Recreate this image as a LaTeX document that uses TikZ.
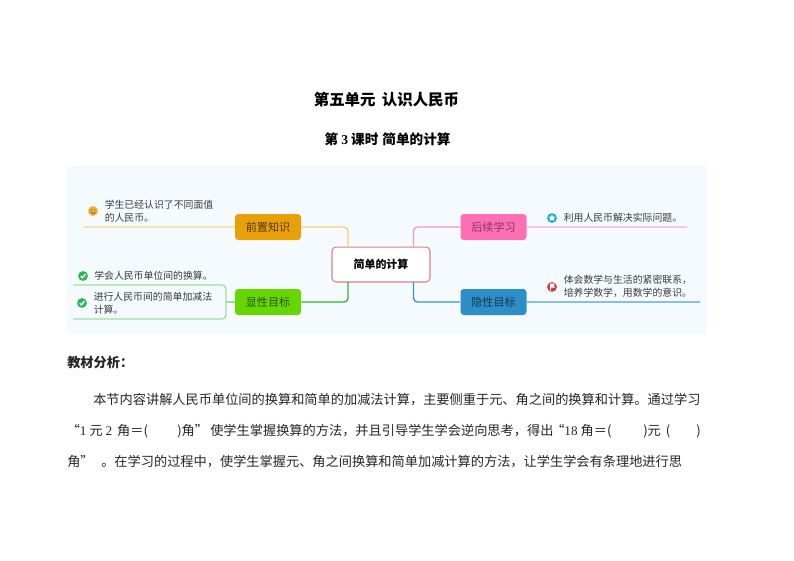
\documentclass[tikz,border=0pt]{standalone}
\usepackage{fontspec}
\setmainfont{Noto Sans CJK SC}
\newfontfamily\latinf{Liberation Serif}
\usetikzlibrary{shapes.geometric}
\definecolor{panelc}{HTML}{F5FAFE}
\definecolor{inkc}{HTML}{3A3A3A}
\definecolor{rootc}{HTML}{D98088}
\definecolor{orangec}{HTML}{E8A008}
\definecolor{greenc}{HTML}{66D600}
\definecolor{pinkc}{HTML}{FF6FB5}
\definecolor{bluec}{HTML}{2E8FC8}
\definecolor{orangel}{HTML}{F8E2B8}
\definecolor{orangem}{HTML}{F6CC7C}
\definecolor{greenl}{HTML}{9FDDA0}
\definecolor{greenm}{HTML}{2EB82E}
\definecolor{pinkl}{HTML}{F8C8DC}
\definecolor{pinkm}{HTML}{F09CB8}
\definecolor{bluel}{HTML}{8CC0D4}
\definecolor{bluem}{HTML}{3A96C0}
\definecolor{smilec}{HTML}{F5B030}
\definecolor{checkc}{HTML}{2EB85C}
\definecolor{starc}{HTML}{1AAFD0}
\definecolor{flagc}{HTML}{D04040}
\tikzset{
 x=0.75pt,y=-0.75pt,
 branch/.style={rounded corners=2.5pt,minimum width=49.5pt,minimum height=19.5pt,inner sep=0pt,font=\fontsize{8.3pt}{10pt}\selectfont},
 rootbox/.style={draw=rootc,line width=0.8pt,fill=white,rounded corners=3pt,minimum width=73.5pt,minimum height=26.2pt,inner sep=0pt,font=\fontsize{8.2pt}{10pt}\selectfont\bfseries,text=black},
 leaf/.style={anchor=west,inner sep=0pt,text=inkc,font=\fontsize{7.4pt}{9.7pt}\selectfont,align=left},
 body/.style={anchor=west,inner sep=0pt,text=black!85,font=\fontsize{9.9pt}{12pt}\selectfont},
 bullet/.style={circle,fill=#1,minimum size=7.4pt,inner sep=0pt},
 link/.style={line width=1pt,rounded corners=3pt},
}
\begin{document}
\begin{tikzpicture}
\useasboundingbox (0,0) rectangle (794,561);
\fill[white] (0,0) rectangle (794,561);
\fill[panelc] (67,166) rectangle (707,334);

% titles
\node[inner sep=0pt,font=\fontsize{11.6pt}{14pt}\selectfont\bfseries] (t1) at (386.5,100) {第五单元\hspace{0.4em}认识人民币};
\node[inner sep=0pt,font=\fontsize{10.2pt}{13pt}\selectfont\bfseries] (t2) at (387.5,139) {第 {\latinf 3} 课时\hspace{0.3em}简单的计算};

% free ends and anchor points
\coordinate (rootnw) at (348,247);
\coordinate (rootsw) at (348,282);
\coordinate (rootne) at (413.5,247);
\coordinate (rootse) at (413.5,282);
\coordinate (endqz) at (84,227);
\coordinate (endhx) at (687,227);
\coordinate (endyx) at (700,302);
\coordinate (boxtop) at (73,285);
\coordinate (boxbot) at (73,319);
\coordinate (boxmid) at (226,302);

% connectors behind nodes
\draw[orangel,line width=1pt] (endqz) -- (235,227);
\draw[pinkl,line width=1pt] (527,227) -- (endhx);
\draw[bluel,line width=1pt] (527,302) -- (endyx);
\draw[greenl,line width=1pt,rounded corners=3pt] (boxtop) -- (226,285) -- (226,319) -- (boxbot);
\draw[greenl,line width=1pt] (boxmid) -- (235,302);

\node[rootbox] (root) at (381,264.5) {简单的计算};
\node[branch,fill=orangec,text=black!65!orangec] (qz) at (268,227) {前置知识};
\node[branch,fill=greenc,text=black!60!greenc] (xx) at (268,302) {显性目标};
\node[branch,fill=pinkc,text=black!50!pinkc] (hx) at (493.5,227) {后续学习};
\node[branch,fill=bluec,text=black!60!bluec] (yx) at (493.5,302) {隐性目标};

\draw[link,orangem] (qz.east) -| (rootnw);
\draw[link,greenm] (xx.east) -| (rootsw);
\draw[link,pinkm] (hx.west) -| (rootne);
\draw[link,bluem] (yx.west) -| (rootse);

% leaf texts
\node[leaf] (a1) at (104.5,211.5) {学生已经认识了不同面值\\的人民币。};
\node[leaf] (b1) at (94,276) {学会人民币单位间的换算。};
\node[leaf] (b2) at (93.5,303.5) {进行人民币间的简单加减法\\计算。};
\node[leaf] (c1) at (563.5,217.5) {利用人民币解决实际问题。};
\node[leaf] (d1) at (563.5,286.5) {体会数学与生活的紧密联系，\\培养学数学，用数学的意识。};

% markers
\node[bullet=smilec] (ia) at (93,211) {};
\fill[black!60] (91.3,209.7) circle (0.7) (94.7,209.7) circle (0.7);
\draw[black!60,line width=0.5pt] (90.6,212) .. controls (91.8,214.3) and (94.2,214.3) .. (95.4,212);
\node[bullet=checkc] (ib1) at (83,276) {};
\draw[white,line width=1pt] (80.8,276) -- (82.4,277.8) -- (85.4,274.2);
\node[bullet=checkc] (ib2) at (82,303) {};
\draw[white,line width=1pt] (79.8,303) -- (81.4,304.8) -- (84.4,301.2);
\node[bullet=starc] (ic) at (552,218) {};
\node[star,star points=5,star point ratio=2.2,fill=white,minimum size=5.5pt,inner sep=0pt] (ics) at (552,218) {};
\node[bullet=flagc] (id) at (552,287) {};
\fill[white] (550,283.7) -- (555,283.7) -- (553.7,285.6) -- (555,287.6) -- (551,287.6) -- (551,290.5) -- (550,290.5) -- cycle;

% analysis text
\node[body,font=\fontsize{9.9pt}{12pt}\selectfont\bfseries] (h) at (67,363) {教材分析：};
\node[body] (l1) at (93,400) {本节内容讲解人民币单位间的换算和简单的加减法计算，主要侧重于元、角之间的换算和计算。通过学习};
\node[body] (l2a) at (66.5,431) {“{\latinf 1} 元 {\latinf 2}\hspace{1.5pt} 角＝(};
\node[body] (l2b) at (177,431) {)角”};
\node[body] (l2c) at (210,431) {使学生掌握换算的方法，并且引导学生学会逆向思考，得出};
\node[body] (l2d) at (551,431) {“{\latinf 18} 角＝(};
\node[body] (l2e) at (643,431) {)元};
\node[body] (l2g) at (665.5,431) {(};
\node[body] (l2f) at (696,431) {)};
\node[body] (l3a) at (67,462) {角”};
\node[body] (l3b) at (101,462) {。在学习的过程中，使学生掌握元、角之间换算和简单加减计算的方法，让学生学会有条理地进行思};
\end{tikzpicture}
\end{document}
